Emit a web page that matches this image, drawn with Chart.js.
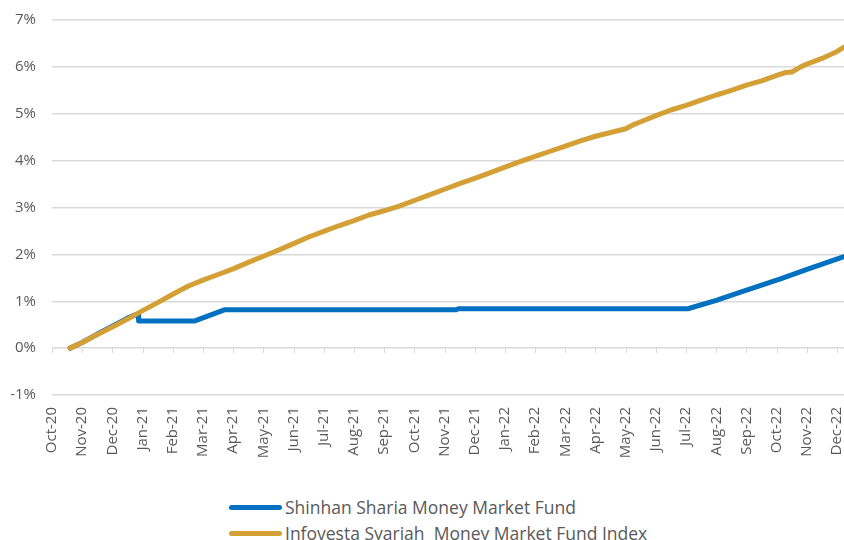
<!DOCTYPE html>
<html>
<head>
<meta charset="utf-8">
<script src="https://cdn.jsdelivr.net/npm/chart.js@4.4.1/dist/chart.umd.min.js"></script>
<style>
  html, body { margin: 0; padding: 0; background: #fff; }
  #wrap { position: relative; width: 844px; height: 540px; overflow: hidden; }
  #box { position: absolute; left: 0; top: 0; width: 860px; height: 470px; }
  #legend { position: absolute; left: 229px; top: 494px; font-family: "Open Sans", sans-serif; font-size: 17.5px; color: #595959; }
  .row { display: flex; align-items: center; height: 26px; white-space: pre; }
  .swatch { width: 53px; height: 5px; border-radius: 3px; margin-right: 3px; }
</style>
</head>
<body>
<div id="wrap">
  <div id="box"><canvas id="chartFund"></canvas></div>
  <div id="legend"></div>
</div>
<script>
// x = bulan sejak Oct-20 (pecahan), y = return kumulatif dalam %
const monthLabels = ['Oct-20', 'Nov-20', 'Dec-20', 'Jan-21', 'Feb-21', 'Mar-21', 'Apr-21', 'May-21', 'Jun-21',
  'Jul-21', 'Aug-21', 'Sep-21', 'Oct-21', 'Nov-21', 'Dec-21', 'Jan-22', 'Feb-22', 'Mar-22', 'Apr-22',
  'May-22', 'Jun-22', 'Jul-22', 'Aug-22', 'Sep-22', 'Oct-22', 'Nov-22', 'Dec-22'];
const yTicks = [-1, 0, 1, 2, 3, 4, 5, 6, 7];

const shinhanName = 'Shinhan Sharia Money Market Fund';
const shinhanX = [0.6, 1.0, 1.5, 2.0, 2.5, 2.8, 2.85, 2.87, 4.73, 5.73, 13.4, 13.45, 21.06, 22.0, 22.78, 24.1, 25.1, 26.23];
const shinhanY = [0.00, 0.12, 0.30, 0.47, 0.64, 0.72, 0.72, 0.58, 0.58, 0.82, 0.82, 0.84, 0.84, 1.02, 1.19, 1.47, 1.70, 1.95];

const infovestaName = 'Infovesta Syariah  Money Market Fund Index';
const infovestaX = [0.6, 1.0, 1.5, 2.0, 2.5, 3.0, 3.5, 4.0, 4.5, 5.0, 5.5, 6.0, 6.5, 7.0, 7.5, 8.0, 8.5, 9.0, 9.5,
  10.0, 10.5, 11.0, 11.5, 12.0, 12.5, 13.0, 13.5, 14.0, 14.5, 15.0, 15.5, 16.0, 16.5, 17.0, 17.5, 18.0, 18.5,
  19.0, 19.3, 19.5, 20.0, 20.5, 21.0, 21.5, 22.0, 22.5, 23.0, 23.5, 24.0, 24.3, 24.5, 24.8, 25.0, 25.5, 26.0, 26.23];
const infovestaY = [0.00, 0.12, 0.29, 0.45, 0.62, 0.80, 0.97, 1.15, 1.32, 1.45, 1.57, 1.69, 1.83, 1.96, 2.09, 2.23, 2.37, 2.49, 2.61,
  2.72, 2.84, 2.93, 3.03, 3.15, 3.27, 3.39, 3.51, 3.62, 3.74, 3.86, 3.98, 4.09, 4.20, 4.31, 4.42, 4.52, 4.60,
  4.68, 4.78, 4.83, 4.96, 5.08, 5.18, 5.29, 5.40, 5.50, 5.61, 5.70, 5.82, 5.88, 5.89, 6.00, 6.06, 6.18, 6.33, 6.42];

const blue = '#0070C0';
const gold = '#D4A036';
const gridColor = '#D9D9D9';
const textColor = '#595959';

function toPoints(xs, ys) {
  return xs.map((x, i) => ({ x: x, y: ys[i] }));
}

// tick kecil di garis 0%
const zeroTicks = {
  id: 'zeroTicks',
  beforeDatasetsDraw(chart) {
    const { ctx, scales: { x, y } } = chart;
    const y0 = y.getPixelForValue(0);
    ctx.save();
    ctx.strokeStyle = gridColor;
    ctx.lineWidth = 1;
    ctx.beginPath();
    monthLabels.forEach((_, i) => {
      const px = Math.round(x.getPixelForValue(i)) + 0.5;
      ctx.moveTo(px, y0);
      ctx.lineTo(px, y0 + 5);
    });
    ctx.stroke();
    ctx.restore();
  }
};

document.addEventListener('DOMContentLoaded', function () {
  const ctx = document.getElementById('chartFund').getContext('2d');
  new Chart(ctx, {
    type: 'line',
    data: {
      datasets: [{
        label: shinhanName,
        data: toPoints(shinhanX, shinhanY),
        borderColor: blue,
        borderWidth: 5,
        order: 1
      }, {
        label: infovestaName,
        data: toPoints(infovestaX, infovestaY),
        borderColor: gold,
        borderWidth: 5,
        order: 0 // emas di atas biru
      }]
    },
    options: {
      responsive: true,
      maintainAspectRatio: false,
      animation: false,
      layout: { padding: { top: 20, right: 16, left: 0, bottom: 0 } },
      elements: {
        point: { radius: 0 },
        line: { tension: 0, borderCapStyle: 'round', borderJoinStyle: 'round' }
      },
      plugins: {
        legend: { display: false },
        tooltip: { enabled: false }
      },
      scales: {
        x: {
          type: 'linear',
          min: 0,
          max: 26.23,
          grid: { display: false, drawTicks: false },
          border: { display: false },
          afterFit: s => { s.height = 75; s.paddingLeft = 0; s.paddingRight = 0; },
          ticks: {
            stepSize: 1,
            includeBounds: false,
            autoSkip: false,
            minRotation: 90,
            maxRotation: 90,
            padding: 12,
            color: textColor,
            font: { family: 'Open Sans', size: 15 },
            callback: v => monthLabels[v] || ''
          }
        },
        y: {
          min: yTicks[0],
          max: yTicks[yTicks.length - 1],
          grid: { color: gridColor, lineWidth: 1.5, drawTicks: false },
          border: { display: false },
          afterFit: s => { s.width = 52; s.paddingTop = 0; s.paddingBottom = 0; },
          ticks: {
            stepSize: 1,
            padding: 16,
            color: textColor,
            font: { family: 'Open Sans', size: 15 },
            callback: v => v + '%'
          }
        }
      }
    },
    plugins: [zeroTicks]
  });

  // legend manual, dua baris seperti aslinya
  const legend = document.getElementById('legend');
  [[shinhanName, blue], [infovestaName, gold]].forEach(([name, color]) => {
    const row = document.createElement('div');
    row.className = 'row';
    row.innerHTML = '<span class="swatch" style="background:' + color + '"></span><span>' + name + '</span>';
    legend.appendChild(row);
  });
});
</script>
</body>
</html>
